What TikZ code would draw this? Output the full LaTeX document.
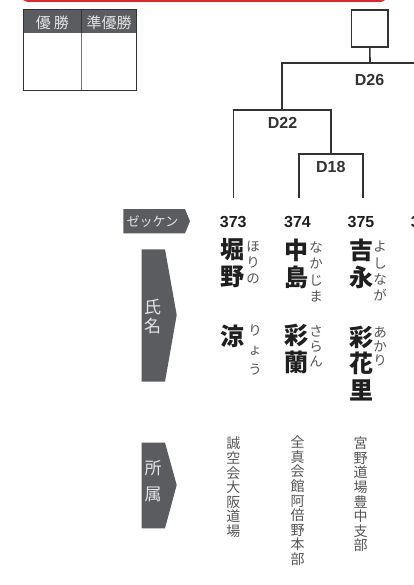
\documentclass[tikz,border=0pt]{standalone}
\usepackage{fontspec}
\setmainfont{Liberation Sans}
\newfontfamily\jp{Noto Sans CJK JP}
\definecolor{tagc}{HTML}{5B5C60}
\definecolor{linec}{HTML}{333333}
\definecolor{redc}{HTML}{E8232B}
\definecolor{affc}{HTML}{555555}
\definecolor{furic}{HTML}{555555}
\definecolor{tagtext}{HTML}{E4E4E4}
\tikzset{
  bline/.style={draw=linec, line width=1.6pt},
  winbox/.style={draw=linec, line width=1.6pt, minimum width=36.7pt, minimum height=36.8pt, inner sep=0},
  dlabel/.style={font=\fontsize{16}{16}\selectfont\bfseries, text=linec, inner sep=0},
  numlabel/.style={font=\fontsize{16}{16}\selectfont\bfseries, text=black!88, inner sep=0},
  kanji/.style={font={\jp\bfseries\fontsize{24}{26.5}\selectfont}, align=center, inner sep=0, text=black!88},
  furi/.style={font={\jp\fontsize{13.5}{#1}\selectfont}, align=center, inner sep=0, text=furic},
  aff/.style={font={\jp\fontsize{14}{14.6}\selectfont}, align=center, inner sep=0, text=affc},
  tagtxt/.style={font={\jp\fontsize{#1}{#1}\selectfont}, text=tagtext, inner sep=0, align=center},
  headtxt/.style={font={\jp\fontsize{15}{15}\selectfont}, text=tagtext, inner sep=0},
}
\begin{document}
\begin{tikzpicture}[x=1pt,y=-1pt]
\useasboundingbox (0,0) rectangle (414,585);
\begin{scope}
\clip (0,0) rectangle (414,585);
% red frame bottom edge
\draw[redc, line width=1.8pt, rounded corners=4pt] (23.3,-20) rectangle (385,0.9);

% result table
\fill[tagc] (23.3,9.3) rectangle (136.7,33.3);
\draw[black!55, line width=1.2pt] (81.3,33.3) -- (81.3,90.7);
\draw[black!80, line width=1.2pt] (81.3,9.3) -- (81.3,33.3);
\draw[linec, line width=1.5pt] (23.3,9.3) rectangle (136.7,90.7);
\node[headtxt] (h1) at (52.3,22.5) {優\hspace{3pt}勝};
\node[headtxt] (h2) at (109,22.5) {準優勝};

% bracket
\node[winbox] (champ) at (369.85,28.5) {};
\coordinate (j26) at (370,63.3);
\coordinate (a26) at (281.7,63.3);
\coordinate (b26) at (414.5,63.3);
\coordinate (j22) at (281.7,110);
\coordinate (a22) at (233.3,110);
\coordinate (b22) at (330.7,110);
\coordinate (j18) at (330.7,154);
\coordinate (a18) at (299,154);
\coordinate (b18) at (362.7,154);
\coordinate (p373) at (233.3,197.7);
\coordinate (p374) at (299,197.7);
\coordinate (p375) at (362.7,197.7);
\draw[bline] (champ.south) -- (j26);
\draw[bline] (j22) -- (a26) -- (b26);
\draw[bline] (p373) -- (a22) -- (b22) -- (j18);
\draw[bline] (p374) -- (a18) -- (b18) -- (p375);
\node[dlabel] (d26) at (369.5,80) {D26};
\node[dlabel] (d22) at (282.5,123.3) {D22};
\node[dlabel] (d18) at (330.8,167) {D18};

% row tags
\fill[tagc] (123.3,209) -- (185,209) -- (190,221.2) -- (185,233.3) -- (123.3,233.3) -- cycle;
\node[tagtxt=13] (tz) at (152.5,221.5) {ゼッケン};
\fill[tagc] (141.7,249.3) -- (165,249.3) -- (176.7,315) -- (165,381.7) -- (141.7,381.7) -- cycle;
\node[font={\jp\fontsize{17}{19}\selectfont}, text=tagtext, inner sep=0, align=center] (tn) at (152.5,317) {氏\\名};
\fill[tagc] (141.7,442.7) -- (165,442.7) -- (176.7,485) -- (165,528.3) -- (141.7,528.3) -- cycle;
\node[font={\jp\fontsize{17}{26}\selectfont}, text=tagtext, inner sep=0, align=center] (ta) at (153,481.2) {所\\属};

% numbers
\node[numlabel] (n373) at (233.3,221.7) {373};
\node[numlabel] (n374) at (297.5,221.7) {374};
\node[numlabel] (n375) at (361,221.7) {375};
\node[numlabel, anchor=west] (n376) at (410.6,221.7) {3};

% names
\node[kanji] (s373) at (232.7,263) {堀\\野};
\node[kanji] (g373) at (232.7,336.7) {涼};
\node[furi=16] (fs373) at (253,263) {ほ\\り\\の};
\node[furi=19.75] (fg373) at (255,349.75) {り\\ょ\\う};

\node[kanji] (s374) at (296,264) {中\\島};
\node[kanji] (g374) at (296,348.75) {彩\\蘭};
\node[furi=16.4] (fs374) at (316,272) {な\\か\\じ\\ま};
\node[furi=15.25] (fg374) at (316,346.25) {さ\\ら\\ん};

\node[kanji] (s375) at (361.7,264) {吉\\永};
\node[kanji] (g375) at (361.7,363.3) {彩\\花\\里};
\node[furi=16.1] (fs375) at (380,271) {よ\\し\\な\\が};
\node[furi=14.2] (fg375) at (380,346.25) {あ\\か\\り};

% affiliations
\node[aff] (a373) at (233.3,487.5) {誠\\空\\会\\大\\阪\\道\\場};
\node[aff] (a374) at (297.5,500.8) {全\\真\\会\\館\\阿\\倍\\野\\本\\部};
\node[aff] (a375) at (360.5,494.5) {宮\\野\\道\\場\\豊\\中\\支\\部};
\end{scope}
\end{tikzpicture}
\end{document}
